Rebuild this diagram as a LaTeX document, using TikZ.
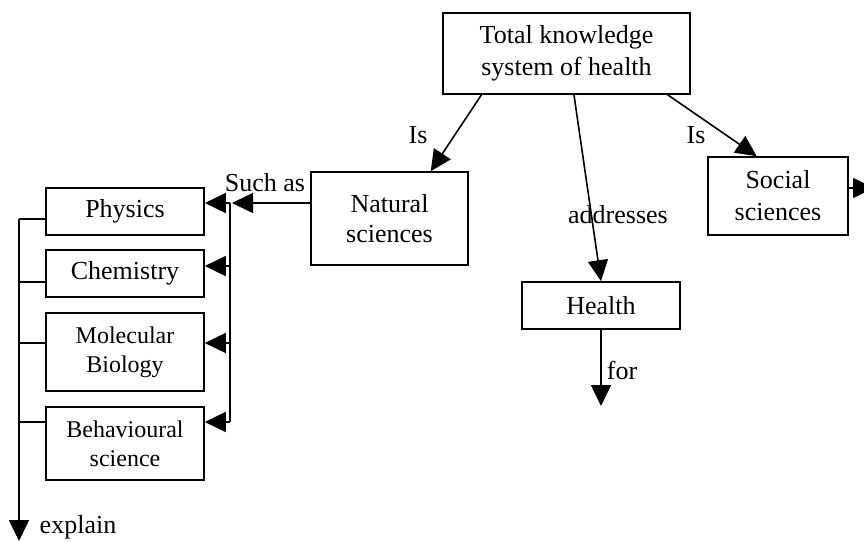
\documentclass[tikz,border=0pt]{standalone}
\usepackage{fontspec}
\setmainfont{Liberation Serif}
\usetikzlibrary{arrows.meta,positioning,calc}
\tikzset{
  ks/box/.style={
    draw=black,
    line width=0.8pt,
    fill=white,
    align=center,
    inner sep=0pt,
    font=\fontsize{13}{15}\selectfont
  },
  ks/smallbox/.style={
    ks/box,
    font=\fontsize{12}{14.5}\selectfont
  },
  ks/arrow/.style={-{Triangle[length=10.5pt,width=10pt]}, line width=0.8pt, draw=black},
  ks/line/.style={line width=0.8pt, draw=black},
  ks/label/.style={font=\fontsize{13}{15}\selectfont, inner sep=0pt}
}
\begin{document}
\begin{tikzpicture}[x=0.5pt,y=-0.5pt]
  \useasboundingbox (0,0) rectangle (864,542);
  \clip (0,0) rectangle (864,542);
  % top of the map
  \node[ks/box,minimum width=123.5pt,minimum height=40.5pt,font=\fontsize{13}{16}\selectfont] (total) at (566.5,53.5) {Total knowledge\\system of health};
  \node[ks/box,minimum width=78.5pt,minimum height=46.5pt] (natural) at (389.5,218.5) {Natural\\sciences};
  \node[ks/box,minimum width=70pt,minimum height=39pt,font=\fontsize{13}{16}\selectfont] (social) at (778,196) {Social\\sciences};
  \node[ks/box,minimum width=79pt,minimum height=23.5pt] (health) at (601,305.5) {Health};
  \draw[ks/arrow] ($(total.south west)!0.158!(total.south east)$) -- ($(natural.north west)!0.76!(natural.north east)$);
  \draw[ks/arrow] ($(total.south west)!0.53!(total.south east)$) -- (health.north);
  \draw[ks/arrow] ($(total.south west)!0.907!(total.south east)$) -- ($(social.north west)!0.35!(social.north east)$);
  \node[ks/label] (is1) at (418,135) {Is};
  \node[ks/label] (is2) at (696,135) {Is};
  \node[ks/label] (addr) at (618,215) {addresses};
  \coordinate (socialEnd) at (874,188);
  \draw[ks/arrow] (social.east |- socialEnd) -- (socialEnd);
  \coordinate (forEnd) at (601,406);
  \draw[ks/arrow] (health.south) -- (forEnd);
  \node[ks/label] (for) at (622,370) {for};
  % the sciences
  \node[ks/box,minimum width=79pt,minimum height=23.5pt] (physics) at (125,211.5) {Physics};
  \node[ks/box,minimum width=79pt,minimum height=23.5pt] (chemistry) at (125,273.5) {Chemistry};
  \node[ks/smallbox,minimum width=79pt,minimum height=39pt] (molbio) at (125,352) {Molecular\\Biology};
  \node[ks/smallbox,minimum width=79pt,minimum height=36.5pt] (behav) at (125,443.5) {Behavioural\\science};
  \coordinate (busTop) at (230,203);
  \coordinate (busBot) at (230,422);
  \draw[ks/arrow] (natural.west |- busTop) -- ([xshift=1pt]busTop);
  \node[ks/label] (suchas) at (265,183) {Such as};
  \draw[ks/line] (busTop) -- (busBot);
  \foreach \n/\y in {physics/203,chemistry/266,molbio/343,behav/422}
    \draw[ks/arrow] (230,\y) -- (\n.east |- 0,\y);
  \coordinate (leftTop) at (19,219);
  \coordinate (explainEnd) at (19,541);
  \draw[ks/arrow] (leftTop) -- (explainEnd);
  \foreach \n/\y in {physics/219,chemistry/282,molbio/343,behav/422}
    \draw[ks/line] (\n.west |- 0,\y) -- (19,\y);
  \node[ks/label] (explain) at (78,527) {explain};
\end{tikzpicture}
\end{document}
